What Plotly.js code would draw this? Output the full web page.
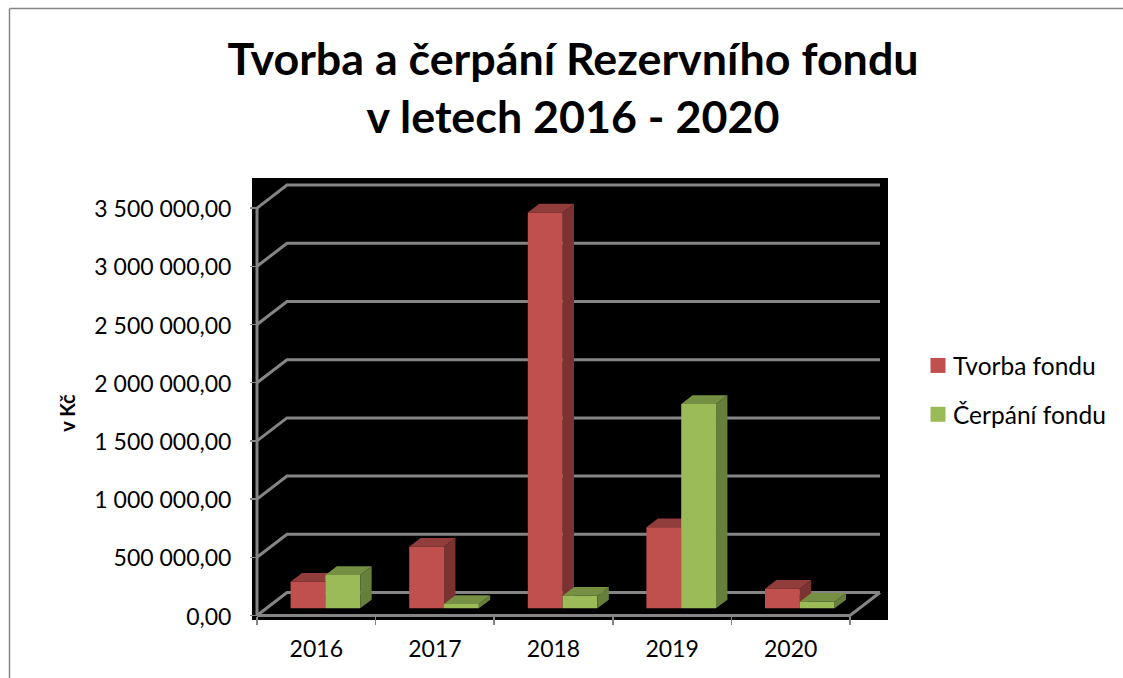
<!DOCTYPE html>
<html><head><meta charset="utf-8">
<script src="https://cdn.plot.ly/plotly-3.0.1.min.js"></script>
<style>html,body{margin:0;padding:0;background:#fff;overflow:hidden}#chart{width:1123px;height:678px}</style>
</head><body><div id="chart"></div>
<script>
const years = ['2016','2017','2018','2019','2020'];
const tvorba = [228000, 529000, 3400000, 696000, 168000];
const cerpani = [286000, 37000, 108000, 1755000, 57000];
const seriesNames = ['Tvorba fondu','Čerpání fondu'];
const tickValues = [0,500000,1000000,1500000,2000000,2500000,3000000,3500000];
const tickLabels = ['0,00','500 000,00','1 000 000,00','1 500 000,00','2 000 000,00','2 500 000,00','3 000 000,00','3 500 000,00'];
const titleText = 'Tvorba a čerpání Rezervního fondu<br>v letech 2016 - 2020';
const FONT = 'Lato, Carlito, sans-serif';
const GREY = '#858585';
const colors = {red:{front:'#C0504D',top:'#913D3B',side:'#7A3331'},green:{front:'#9BBB59',top:'#769043',side:'#667F3A'}};

// Plot rectangle (the black area) in page pixels and the oblique depth of the 3-D box, in axis units
const L=252,R=888,T=178,B=620,W=1123,H=678;
const X0=257,CAT=118.6,Y0=615.5,PX_PER_VALUE=58.2/500000;
const xRange=[(L-X0)/CAT,(R-X0)/CAT];
const yRange=[(Y0-B)/PX_PER_VALUE,(Y0-T)/PX_PER_VALUE];
const DX=30/CAT, DY=23/PX_PER_VALUE;
const D0=0.31, D1=0.69, BARW=0.2935, GAP=0.205;

const px=(i,s)=>i+GAP+s*BARW;              // left edge of series s in category i
const faces=(i,s,v)=>{
  const x0=px(i,s)+D0*DX, x1=x0+BARW, y0=D0*DY, y1=y0+v, dx=(D1-D0)*DX, dy=(D1-D0)*DY;
  return {
    top:[[x0,y1],[x1,y1],[x1+dx,y1+dy],[x0+dx,y1+dy]],
    side:[[x1,y0],[x1+dx,y0+dy],[x1+dx,y1+dy],[x1,y1]]
  };
};
const toPath=p=>'M'+p.map(q=>q.join(',')).join('L')+'Z';
const poly=(vals,s,key)=>{
  const xs=[],ys=[];
  vals.forEach((v,i)=>{const f=faces(i,s,v)[key];f.forEach(q=>{xs.push(q[0]);ys.push(q[1]);});xs.push(f[0][0],null);ys.push(f[0][1],null);});
  return {x:xs,y:ys};
};
const barTrace=(vals,s,name,c)=>({
  type:'bar',name,legendgroup:name,
  x:vals.map((v,i)=>px(i,s)+BARW/2+D0*DX),y:vals,base:vals.map(()=>D0*DY),width:BARW,
  marker:{color:c.front,line:{width:0}},hoverinfo:'name+y'
});
const polyTrace=(vals,s,key,color)=>Object.assign(poly(vals,s,key),{
  type:'scatter',mode:'lines',fill:'toself',fillcolor:color,line:{width:0,color:color},
  showlegend:false,hoverinfo:'skip'
});

const traces=[
  barTrace(tvorba,0,seriesNames[0],colors.red),
  barTrace(cerpani,1,seriesNames[1],colors.green),
  polyTrace(cerpani,1,'side',colors.green.side),
  polyTrace(cerpani,1,'top',colors.green.top)
];

const lineShape=(x0,y0,x1,y1,w)=>({type:'line',xref:'x',yref:'y',x0,y0,x1,y1,layer:'below',line:{color:GREY,width:w||3}});
const shapes=[];
tickValues.forEach(v=>{
  shapes.push({type:'path',xref:'x',yref:'y',layer:'below',
    path:`M0,${v}L${DX},${v+DY}L${years.length+DX},${v+DY}`,line:{color:GREY,width:3}});
});
shapes.push(lineShape(0,0,0,tickValues[tickValues.length-1]));
shapes.push({type:'path',xref:'x',yref:'y',layer:'below',path:`M0,0L${years.length},0L${years.length+DX},${DY}`,line:{color:GREY,width:3}});
tvorba.forEach((v,i)=>{
  const f=faces(i,0,v);
  shapes.push({type:'path',xref:'x',yref:'y',layer:'below',path:toPath(f.side),fillcolor:colors.red.side,line:{width:0}});
  shapes.push({type:'path',xref:'x',yref:'y',layer:'below',path:toPath(f.top),fillcolor:colors.red.top,line:{width:0}});
});
// outer chart frame: top and left edges
const pxX=p=>(p-L)/(R-L), pxY=p=>(B-p)/(B-T);
shapes.push({type:'line',xref:'paper',yref:'paper',x0:pxX(9.5),x1:pxX(W),y0:pxY(8.5),y1:pxY(8.5),line:{color:'#868686',width:1.5}});
shapes.push({type:'line',xref:'paper',yref:'paper',x0:pxX(9.5),x1:pxX(9.5),y0:pxY(8.5),y1:pxY(H),line:{color:'#868686',width:1.5}});

const layout={
  width:W,height:H,autosize:false,
  margin:{l:L,r:W-R,t:T,b:H-B,pad:0},
  paper_bgcolor:'#fff',plot_bgcolor:'#000',
  font:{family:FONT,color:'#000',size:23},
  title:{text:titleText,font:{family:FONT,size:44.8,color:'#000',weight:700},x:573/W,xanchor:'center',y:1-75/H,yanchor:'top'},
  barmode:'overlay',
  xaxis:{type:'linear',range:xRange,anchor:'free',position:pxY(Y0),showgrid:false,zeroline:false,showline:false,
    tickmode:'array',tickvals:years.map((y,i)=>i+0.5),ticktext:years,ticks:'',ticklabelstandoff:17,tickfont:{family:FONT,size:23,color:'#000'},
    minor:{tickmode:'array',tickvals:years.map((y,i)=>i).concat([years.length]),ticks:'outside',ticklen:8,tickcolor:GREY,tickwidth:1.5,showgrid:false}},
  yaxis:{type:'linear',range:yRange,anchor:'free',position:pxX(X0),showgrid:false,zeroline:false,showline:false,
    tickmode:'array',tickvals:tickValues,ticktext:tickLabels,ticks:'outside',ticklen:7,tickwidth:1.5,tickcolor:GREY,ticklabelstandoff:14,ticklabelshift:1,
    tickfont:{family:FONT,size:23,color:'#000'},
    title:{text:'<b>v Kč</b>',font:{family:FONT,size:20,color:'#000'},standoff:12}},
  legend:{x:pxX(900),xanchor:'left',y:pxY(390),yanchor:'middle',font:{family:FONT,size:24.5,color:'#000'},tracegroupgap:14,bgcolor:'rgba(0,0,0,0)',traceorder:'grouped'},
  shapes
};
Plotly.newPlot('chart',traces,layout,{displayModeBar:false,staticPlot:true}).then(gd=>{
  gd.querySelectorAll('.legendpoints path').forEach(p=>{p.setAttribute('d','M7.5,7.5H-7.5V-7.5H7.5Z');});
  gd.querySelectorAll('.legendtext').forEach(t=>{t.setAttribute('x','35');});
  const lg=gd.querySelector('.legend');
  if(lg){lg.setAttribute('transform',lg.getAttribute('transform')+' translate(18,0)');}
  const yt=gd.querySelector('.ytitle');
  if(yt){yt.setAttribute('transform','translate(0,14) '+(yt.getAttribute('transform')||''));}
});
</script></body></html>
